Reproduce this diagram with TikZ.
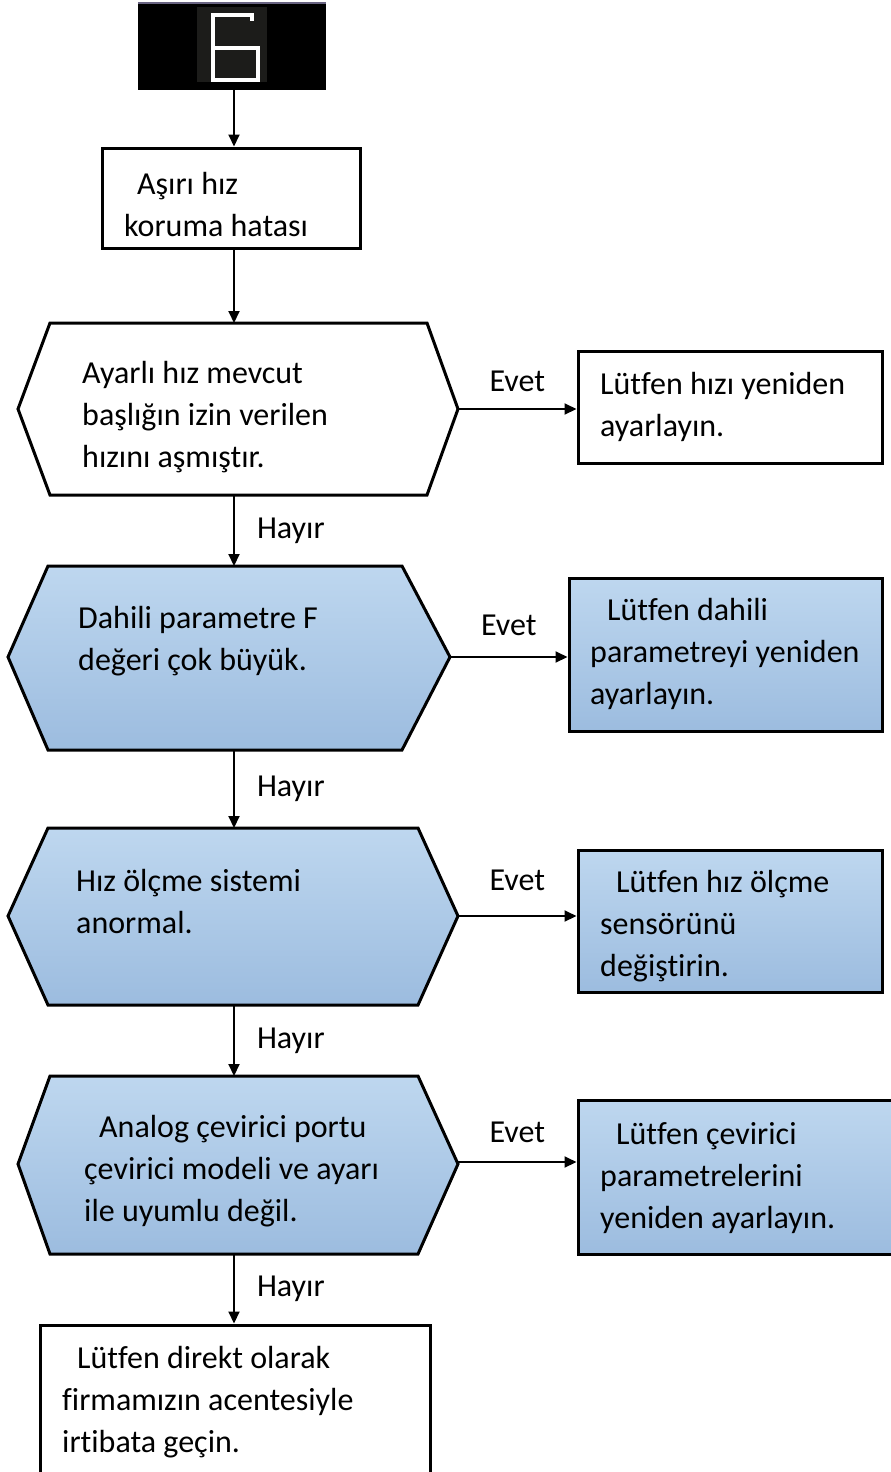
\documentclass[tikz,border=0pt]{standalone}
\usepackage{fontspec}
\setmainfont{Carlito}[Ligatures=NoCommon]
\usetikzlibrary{arrows.meta,calc}
\definecolor{bluetop}{RGB}{190,215,239}
\definecolor{bluebot}{RGB}{156,188,223}
\definecolor{dispedge}{RGB}{105,100,130}
\definecolor{dispinner}{RGB}{28,28,26}
\tikzset{
  arr/.style={line width=2pt,-{Triangle[length=12pt,width=11pt]}},
  box/.style={draw,line width=3pt,inner sep=0pt,fill=white},
  bluebox/.style={draw,line width=3pt,inner sep=0pt,top color=bluetop,bottom color=bluebot},
  hexw/.style={draw,line width=3pt,fill=white},
  hexb/.style={draw,line width=3pt,top color=bluetop,bottom color=bluebot},
  txt/.style={font=\fontsize{32}{42}\selectfont,align=left,anchor=west,inner sep=0pt},
  lbl/.style={font=\fontsize{32}{42}\selectfont,inner sep=0pt},
  digit/.style={draw=white,line width=3.5pt,line join=miter}
}
\begin{document}
\begin{tikzpicture}[x=1pt,y=-1pt]
\useasboundingbox (0,0) rectangle (891,1472);
\clip (0,0) rectangle (891,1472);
% display
\node[fill=black,minimum width=188pt,minimum height=87pt,inner sep=0pt] (disp) at (232,46.5) {};
\draw[dispedge,line width=2pt] (disp.north west) -- (disp.north east);
\fill[dispinner] (197,7) rectangle (267,82);
\draw[digit] (252,21) -- (252,15) -- (213,15) -- (213,80) -- (258,80) -- (258,48) -- (213,48);

% box 1
\node[box,minimum width=258pt,minimum height=100pt] (b1) at (231,198) {};
\node[txt] (t1) at (124,205) {\hspace*{13pt}Aşırı hız\\koruma hatası};

% hex 1
\draw[hexw] (18,409) -- (50,323) -- (427,323) -- (458,409) -- (427,495) -- (50,495) -- cycle;
\coordinate (h1n) at (234,323);
\coordinate (h1s) at (234,495);
\coordinate (h1e) at (458,409);
\node[txt] (th1) at (82,417) {Ayarlı hız mevcut\\başlığın izin verilen\\hızını aşmıştır.};
\node[box,minimum width=304pt,minimum height=112pt] (r1) at (730,407) {};
\node[txt] (tr1) at (600,407) {Lütfen hızı yeniden\\ayarlayın.};

% hex 2
\draw[hexb] (8,657) -- (48,566) -- (402,566) -- (450,657) -- (402,750) -- (48,750) -- cycle;
\coordinate (h2n) at (234,566);
\coordinate (h2s) at (234,750);
\coordinate (h2e) at (450,657);
\node[txt] (th2) at (78,641) {Dahili parametre F\\değeri çok büyük.};
\node[bluebox,minimum width=313pt,minimum height=153pt] (r2) at (725.5,654.5) {};
\node[txt] (tr2) at (590,654) {\hspace*{17pt}Lütfen dahili\\parametreyi yeniden\\ayarlayın.};

% hex 3
\draw[hexb] (8,916) -- (48,828) -- (418,828) -- (458,916) -- (418,1005) -- (48,1005) -- cycle;
\coordinate (h3n) at (234,828);
\coordinate (h3s) at (234,1005);
\coordinate (h3e) at (458,916);
\node[txt] (th3) at (76,902) {Hız ölçme sistemi\\anormal.};
\node[bluebox,minimum width=304pt,minimum height=142pt] (r3) at (730,921) {};
\node[txt] (tr3) at (600,926) {\hspace*{16pt}Lütfen hız ölçme\\sensörünü\\değiştirin.};

% hex 4
\draw[hexb] (18,1164) -- (50,1076) -- (418,1076) -- (458,1164) -- (418,1254) -- (50,1254) -- cycle;
\coordinate (h4n) at (234,1076);
\coordinate (h4s) at (234,1254);
\coordinate (h4e) at (458,1162);
\node[txt] (th4) at (84,1171) {\hspace*{15pt}Analog çevirici portu\\çevirici modeli ve ayarı\\ile uyumlu değil.};
\node[bluebox,minimum width=327pt,minimum height=154pt] (r4) at (741.5,1177) {};
\node[txt] (tr4) at (600,1178) {\hspace*{16pt}Lütfen çevirici\\parametrelerini\\yeniden ayarlayın.};

% bottom box
\node[box,minimum width=390pt,minimum height=165pt] (b2) at (235,1407.5) {};
\node[txt] (tb2) at (62,1402) {\hspace*{15pt}Lütfen direkt olarak\\firmamızın acentesiyle\\irtibata geçin.};

% connectors
\draw[arr] (disp.south -| h1n) -- (b1.north -| h1n);
\draw[arr] (b1.south -| h1n) -- (h1n);
\draw[arr] (h1e) -- node[lbl,above=16pt]{Evet} (h1e -| r1.west);
\draw[arr] (h1s) -- node[lbl,right=22pt]{Hayır} (h2n);
\draw[arr] (h2e) -- node[lbl,above=20pt]{Evet} (h2e -| r2.west);
\draw[arr] (h2s) -- node[lbl,right=22pt]{Hayır} (h3n);
\draw[arr] (h3e) -- node[lbl,above=24pt]{Evet} (h3e -| r3.west);
\draw[arr] (h3s) -- node[lbl,right=22pt]{Hayır} (h4n);
\draw[arr] (h4e) -- node[lbl,above=18pt]{Evet} (h4e -| r4.west);
\draw[arr] (h4s) -- node[lbl,right=22pt]{Hayır} (b2.north -| h4s);
\end{tikzpicture}
\end{document}
